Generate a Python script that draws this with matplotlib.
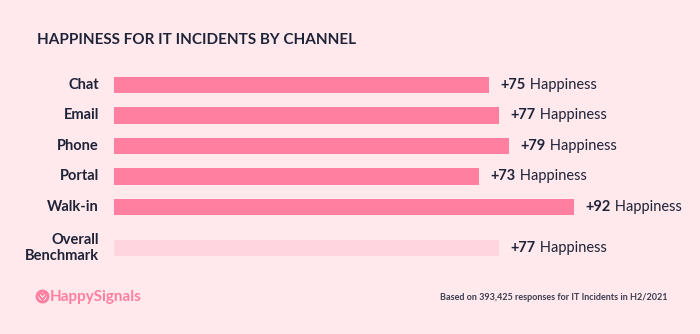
import matplotlib.pyplot as plt
from matplotlib.lines import Line2D

plt.rcParams['font.family'] = ['Lato', 'DejaVu Sans']

channels = ['Chat', 'Email', 'Phone', 'Portal', 'Walk-in', 'Overall\nBenchmark']
happiness = [75, 77, 79, 73, 92, 77]
ypos = [0, 1, 2, 3, 4, 5.34]

bg = '#ffe9ed'
bar_col = '#ff7fa1'
bench_col = '#ffd6df'
ink = '#1f2338'

fig = plt.figure(figsize=(7, 3.34), dpi=100, facecolor=bg)
# axes spans the bar area: x from 114px to 700px, y from 61px to 271px
ax = fig.add_axes([114 / 700, 1 - 271 / 334, 586 / 700, 210 / 334])
ax.set_facecolor(bg)
ax.set_xlim(0, 586 / 5)
ax.set_ylim(6.1, -0.787)

colors = [bar_col] * 5 + [bench_col]
ax.barh(ypos, happiness, height=0.54, color=colors, edgecolor='none')

for y, v, name in zip(ypos, happiness, channels):
    t = ax.text(v + 2.3, y, '+%d' % v, fontsize=10.5, fontweight='bold',
                color=ink, va='center', ha='left')
    ax.annotate(' Happiness', xy=(1, 0.5), xycoords=t, fontsize=10.5,
                color=ink, va='center', ha='left')
    ax.text(-3, y, name, fontsize=10.5, fontweight='bold', color=ink,
            va='center', ha='right', linespacing=1.15)

for s in ax.spines.values():
    s.set_visible(False)
ax.set_xticks([])
ax.set_yticks([])

fig.text(37 / 700, 1 - 40 / 334, 'HAPPINESS FOR IT INCIDENTS BY CHANNEL',
         fontsize=11, fontweight='bold', color=ink, va='center', ha='left')

# logo: small bubble icon and brand name
fig.add_artist(Line2D([42 / 700], [1 - 296 / 334], marker='o', markersize=8,
                      markerfacecolor='none', markeredgecolor=bar_col,
                      markeredgewidth=2, transform=fig.transFigure))
fig.add_artist(Line2D([42 / 700], [1 - 296 / 334], marker=r'$\heartsuit$',
                      markersize=5, color=bar_col, transform=fig.transFigure))
fig.text(50 / 700, 1 - 297 / 334, 'HappySignals', fontsize=11,
         fontweight='bold', color=bar_col, va='center', ha='left')

fig.text(668 / 700, 1 - 297 / 334,
         'Based on 393,425 responses for IT Incidents in H2/2021',
         fontsize=6.5, fontweight='bold', color='#3a3d50', va='center', ha='right')

fig.savefig('out.png', dpi=100, facecolor=bg)
